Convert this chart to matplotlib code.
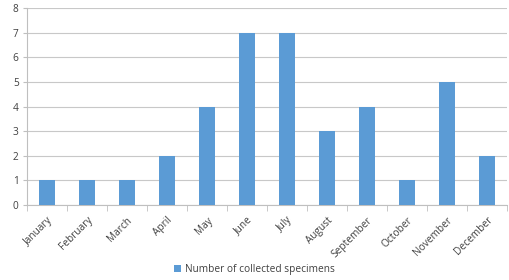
import matplotlib
matplotlib.use("Agg")
import matplotlib.pyplot as plt
import numpy as np

months = ["January", "February", "March", "April", "May", "June", "July",
          "August", "September", "October", "November", "December"]
specimens = [1, 1, 1, 2, 4, 7, 7, 3, 4, 1, 5, 2]

plt.rcParams["font.family"] = ["Open Sans", "DejaVu Sans"]

fig = plt.figure(figsize=(5.09, 2.8), dpi=100)
ax = fig.add_axes([0.053, 0.268, 0.943, 0.703])

x = np.arange(len(months))
ax.bar(x, specimens, width=0.4, color="#5B9BD5", zorder=3,
       label="Number of collected specimens")

ax.set_xlim(-0.5, len(months) - 0.5)
ax.set_ylim(0, 8)
ax.set_yticks(range(0, 9))
ax.grid(axis="y", color="#c8c8c8", linewidth=0.8, zorder=0)

ax.set_xticks(x)
ax.set_xticklabels(months, rotation=45, ha="right", rotation_mode="anchor",
                   fontsize=7.3, color="#404040")
ax.set_xticks(np.arange(-0.5, len(months)), minor=True)
ax.tick_params(axis="x", which="major", length=0, pad=7)
ax.tick_params(axis="x", which="minor", length=4, color="#bfbfbf")
ax.tick_params(axis="y", length=3, color="#bfbfbf", labelsize=7.3,
               labelcolor="#404040", pad=3)

for side in ["top", "right"]:
    ax.spines[side].set_visible(False)
ax.spines["left"].set_color("#bfbfbf")
ax.spines["bottom"].set_color("#bfbfbf")

fig.legend(loc="lower center", bbox_to_anchor=(0.5, -0.015), frameon=False,
           fontsize=7.3, handlelength=0.7, handleheight=0.7, handletextpad=0.4,
           labelcolor="#404040")

fig.savefig("out.png", dpi=100)
